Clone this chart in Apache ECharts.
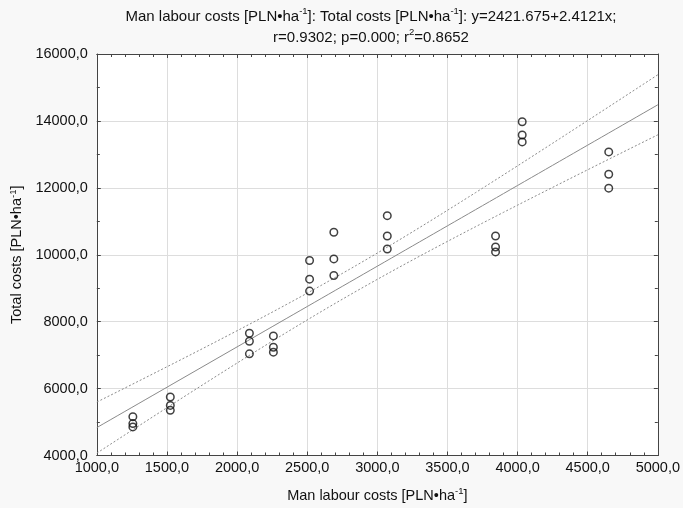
<!DOCTYPE html>
<html>
<head>
<meta charset="utf-8">
<script src="https://cdn.jsdelivr.net/npm/echarts@6/dist/echarts.min.js"></script>
<style>
  html, body { margin: 0; padding: 0; background: #f8f8f8; }
  #chart { width: 683px; height: 508px; }
</style>
</head>
<body>
<div id="chart"></div>
<script>
// Man labour costs (x) vs total costs (y), PLN per hectare; three observations per farm group
const labourCosts = [
  1257, 1257, 1257,
  1524, 1524, 1524,
  2088, 2088, 2088,
  2259, 2259, 2259,
  2517, 2517, 2517,
  2690, 2690, 2690,
  3071, 3071, 3071,
  3843, 3843, 3843,
  4033, 4033, 4033,
  4650, 4650, 4650
];
const totalCosts = [
  5161, 4953, 4855,
  5748, 5498, 5349,
  7654, 7416, 7038,
  7574, 7237, 7088,
  9828, 9271, 8914,
  10671, 9875, 9381,
  11168, 10560, 10173,
  10560, 10233, 10084,
  13976, 13580, 13372,
  13074, 12407, 11990
];

// Fitted model reported in the heading
const intercept = 2421.675;
const slope = 2.4121;
const rValue = '0.9302';
const pValue = '0.000';
const r2Value = '0.8652';

// Axis ranges
const xRange = [1000, 5000];
const xStep = 500;
const yRange = [4000, 16000];
const yStep = 2000;

// 95% confidence band for the mean response
const tCrit = 2.048; // t(0.975, n-2 = 28)
const n = labourCosts.length;
const meanX = labourCosts.reduce((a, b) => a + b, 0) / n;
const sxx = labourCosts.reduce((a, x) => a + (x - meanX) ** 2, 0);
const sse = labourCosts.reduce((a, x, i) => a + (totalCosts[i] - (intercept + slope * x)) ** 2, 0);
const sErr = Math.sqrt(sse / (n - 2));

const fitLine = [], upperBand = [], lowerBand = [];
for (let x = xRange[0]; x <= xRange[1]; x += 50) {
  const yHat = intercept + slope * x;
  const half = tCrit * sErr * Math.sqrt(1 / n + (x - meanX) ** 2 / sxx);
  fitLine.push([x, yHat]);
  upperBand.push([x, yHat + half]);
  lowerBand.push([x, yHat - half]);
}

const fmt = v => v.toFixed(1).replace('.', ',');
const font = 'Liberation Sans, Arial, sans-serif';
const textRich = {
  n: { fontFamily: font, fontSize: 15, fontWeight: 'normal', color: '#111', lineHeight: 21 },
  s: { fontFamily: font, fontSize: 9.5, fontWeight: 'normal', color: '#111', lineHeight: 18, verticalAlign: 'top' }
};
const nameRich = {
  n: { fontFamily: font, fontSize: 14.5, color: '#111', lineHeight: 18 },
  s: { fontFamily: font, fontSize: 9.5, color: '#111', lineHeight: 15, verticalAlign: 'top' }
};

const axisColor = '#444';
const frameAxis = (extra) => Object.assign({
  type: 'value',
  axisLine: { show: true, onZero: false, lineStyle: { color: axisColor, width: 1 } },
  axisTick: { show: true, inside: true, length: 4, lineStyle: { color: axisColor } },
  minorTick: { show: true, length: 3, lineStyle: { color: axisColor } },
  splitLine: { show: false },
  axisLabel: { show: false }
}, extra);

const chart = echarts.init(document.getElementById('chart'));
chart.setOption({
  animation: false,
  backgroundColor: '#f8f8f8',
  title: {
    text: '{n|Man labour costs [PLN•ha}{s|-1}{n|]: Total costs [PLN•ha}{s|-1}{n|]: y=' + intercept + '+' + slope + 'x;}\n' +
          '{n|r=' + rValue + '; p=' + pValue + '; r}{s|2}{n|=' + r2Value + '}',
    left: 366,
    top: 1,
    textAlign: 'center',
    textStyle: { fontWeight: 'normal', rich: textRich }
  },
  grid: { left: 96, right: 24, top: 54, bottom: 51, show: true, backgroundColor: '#ffffff', borderWidth: 0 },
  xAxis: [
    frameAxis({
      min: xRange[0], max: xRange[1], interval: xStep, position: 'bottom',
      minorTick: { show: true, splitNumber: 5, length: 3, lineStyle: { color: axisColor } },
      splitLine: { show: true, lineStyle: { color: '#dddddd', width: 1 } },
      axisLabel: { show: true, formatter: fmt, fontFamily: font, fontSize: 14.5, color: '#111', margin: 5 },
      name: '{n|Man labour costs [PLN•ha}{s|-1}{n|]}',
      nameLocation: 'middle', nameGap: 31,
      nameTextStyle: { rich: nameRich }
    }),
    frameAxis({
      min: xRange[0], max: xRange[1], interval: xStep, position: 'top',
      minorTick: { show: true, splitNumber: 5, length: 3, lineStyle: { color: axisColor } }
    })
  ],
  yAxis: [
    frameAxis({
      min: yRange[0], max: yRange[1], interval: yStep, position: 'left',
      minorTick: { show: true, splitNumber: 2, length: 3, lineStyle: { color: axisColor } },
      splitLine: { show: true, lineStyle: { color: '#dddddd', width: 1 } },
      axisLabel: { show: true, formatter: fmt, fontFamily: font, fontSize: 14.5, color: '#111', margin: 9 },
      name: '{n|Total costs [PLN•ha}{s|-1}{n|]}',
      nameLocation: 'middle', nameGap: 70,
      nameTextStyle: { rich: nameRich }
    }),
    frameAxis({
      min: yRange[0], max: yRange[1], interval: yStep, position: 'right',
      minorTick: { show: true, splitNumber: 2, length: 3, lineStyle: { color: axisColor } }
    })
  ],
  series: [
    {
      type: 'line', data: upperBand, showSymbol: false, silent: true,
      lineStyle: { color: '#8a8a8a', width: 1, type: [2, 2] }
    },
    {
      type: 'line', data: lowerBand, showSymbol: false, silent: true,
      lineStyle: { color: '#8a8a8a', width: 1, type: [2, 2] }
    },
    {
      type: 'line', data: fitLine, showSymbol: false, silent: true,
      lineStyle: { color: '#8a8a8a', width: 1 }
    },
    {
      type: 'scatter',
      data: labourCosts.map((x, i) => [x, totalCosts[i]]),
      symbol: 'circle', symbolSize: 7.5,
      itemStyle: { color: 'rgba(255,255,255,0)', borderColor: '#111', borderWidth: 1.5 },
      z: 5
    }
  ]
});
</script>
</body>
</html>
